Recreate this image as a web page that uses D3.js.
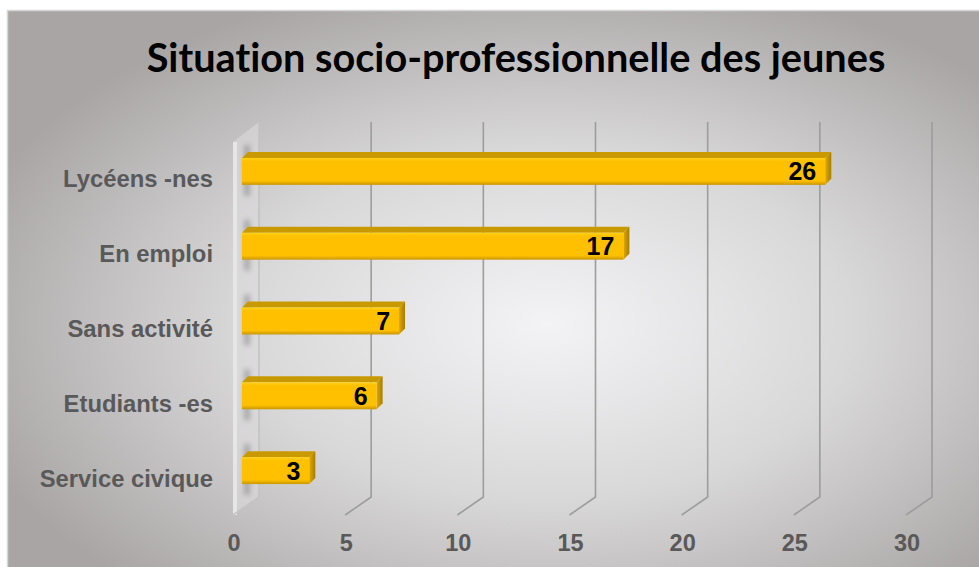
<!DOCTYPE html>
<html><head><meta charset="utf-8">
<script src="https://cdn.jsdelivr.net/npm/d3@7/dist/d3.min.js"></script>
<style>body{margin:0;background:#fff}svg{display:block}</style>
</head><body>
<svg id="c" width="979" height="567"></svg>
<script>
const title = "Situation socio-professionnelle des jeunes";
const categories = ["Lycéens -nes", "En emploi", "Sans activité", "Etudiants -es", "Service civique"];
const values = [26, 17, 7, 6, 3];
const tickValues = [0, 5, 10, 15, 20, 25, 30];

const svg = d3.select("#c");
const defs = svg.append("defs");
const bg = defs.append("radialGradient").attr("id","bg").attr("cx",0.55).attr("cy",0.55).attr("r",0.62).attr("fx",0.55).attr("fy",0.55);
bg.append("stop").attr("offset",0).attr("stop-color","#f3f3f5");
bg.append("stop").attr("offset",0.5).attr("stop-color","#d9d8d9");
bg.append("stop").attr("offset",1).attr("stop-color","#a9a5a5");
const fg = defs.append("linearGradient").attr("id","front").attr("x1",0).attr("y1",0).attr("x2",0).attr("y2",1);
fg.append("stop").attr("offset",0).attr("stop-color","#ffd21a");
fg.append("stop").attr("offset",0.12).attr("stop-color","#ffc000");
fg.append("stop").attr("offset",0.85).attr("stop-color","#ffc000");
fg.append("stop").attr("offset",1).attr("stop-color","#c99700");
const sg = defs.append("linearGradient").attr("id","side").attr("x1",0).attr("y1",0).attr("x2",1).attr("y2",0);
sg.append("stop").attr("offset",0).attr("stop-color","#e0a800");
sg.append("stop").attr("offset",1).attr("stop-color","#a57d00");
defs.append("filter").attr("id","blur").attr("x","-100%").attr("y","-50%").attr("width","300%").attr("height","200%")
  .append("feGaussianBlur").attr("stdDeviation",2.5);

// chart area
svg.append("rect").attr("x",7.5).attr("y",10.5).attr("width",980).attr("height",570)
  .attr("fill","url(#bg)").attr("stroke","#d6d6d6").attr("stroke-width",1.5);

// scales
const xBack = d3.scaleLinear().domain([0,30]).range([259,932]);
const xFront = d3.scaleLinear().domain([0,30]).range([233,906]);
const xBar = d3.scaleLinear().domain([0,30]).range([242,915]);
const y = d3.scaleBand().domain(categories).range([134,508]).paddingInner(0.64).paddingOuter(0.32);
const backTop = 122, backBottom = 497, dDy = 18;

// left wall
svg.append("path").attr("d",`M${xBack(0)},${backTop}L${xBack(0)},${backBottom}L${xFront(0)},${backBottom+dDy}L${xFront(0)},${backTop+20}Z`)
  .attr("fill","#dcdbdc").attr("opacity",0.6);
svg.append("line").attr("x1",xFront(0)+2).attr("x2",xFront(0)+2).attr("y1",backTop+20).attr("y2",backBottom+dDy)
  .attr("stroke","#e6e6e6").attr("stroke-width",4);

// gridlines
const grid = svg.append("g");
tickValues.forEach(t => {
  grid.append("path")
    .attr("d",`M${xBack(t)},${backTop}L${xBack(t)},${backBottom}L${xFront(t)},${backBottom+dDy}`)
    .attr("fill","none").attr("stroke", t===0 ? "#c4c4c4" : "#9d9d9d").attr("stroke-width",1.6);
});

// shadows on wall
svg.append("g").selectAll("rect").data(categories).join("rect")
  .attr("x",244).attr("width",6).attr("y",d=>y(d)-13).attr("height",y.bandwidth()+24)
  .attr("fill","#666").attr("opacity",0.4).attr("filter","url(#blur)");

// bars
const dx = 6, dy = 6;
const bars = svg.append("g").selectAll("g").data(values).join("g");
bars.append("path").attr("d",(v,i)=>{const t=y(categories[i]),x0=xBar(0),x1=xBar(v);
  return `M${x0},${t}L${x1},${t}L${x1+dx},${t-dy}L${x0+dx},${t-dy}Z`;}).attr("fill","#c99900");
bars.append("path").attr("d",(v,i)=>{const t=y(categories[i]),b=t+y.bandwidth(),x1=xBar(v);
  return `M${x1},${t}L${x1+dx},${t-dy}L${x1+dx},${b-dy}L${x1},${b}Z`;}).attr("fill","url(#side)");
bars.append("rect").attr("x",xBar(0)).attr("y",(v,i)=>y(categories[i]))
  .attr("width",v=>xBar(v)-xBar(0)).attr("height",y.bandwidth()).attr("fill","url(#front)");

// value labels
svg.append("g").selectAll("text").data(values).join("text")
  .attr("x",v=>xBar(v)-9).attr("y",(v,i)=>y(categories[i])+y.bandwidth()/2+9)
  .attr("text-anchor","end").attr("font-family","Liberation Sans, Arial, sans-serif")
  .attr("font-weight","bold").attr("font-size",25).attr("fill","#000").text(v=>v);

// category labels
svg.append("g").selectAll("text").data(categories).join("text")
  .attr("x",213).attr("y",d=>y(d)+y.bandwidth()/2+16)
  .attr("text-anchor","end").attr("font-family","Liberation Sans, Arial, sans-serif")
  .attr("font-weight","bold").attr("font-size",23.8).attr("fill","#595959").text(d=>d);

// x tick labels
svg.append("g").selectAll("text").data(tickValues).join("text")
  .attr("x",t=>xFront(t)+1).attr("y",551)
  .attr("text-anchor","middle").attr("font-family","Liberation Sans, Arial, sans-serif")
  .attr("font-weight","bold").attr("font-size",23.5).attr("fill","#595959").text(t=>t);

// title
const tt = svg.append("text").attr("x",516).attr("y",72).attr("text-anchor","middle")
  .attr("font-family","Lato, Open Sans, sans-serif").attr("font-weight","bold")
  .style("font-variant-ligatures","none")
  .attr("font-size",40).attr("fill","#000").text(title);
const w = tt.node().getComputedTextLength();
tt.attr("font-size", 40*739/w);
</script>
</body></html>
